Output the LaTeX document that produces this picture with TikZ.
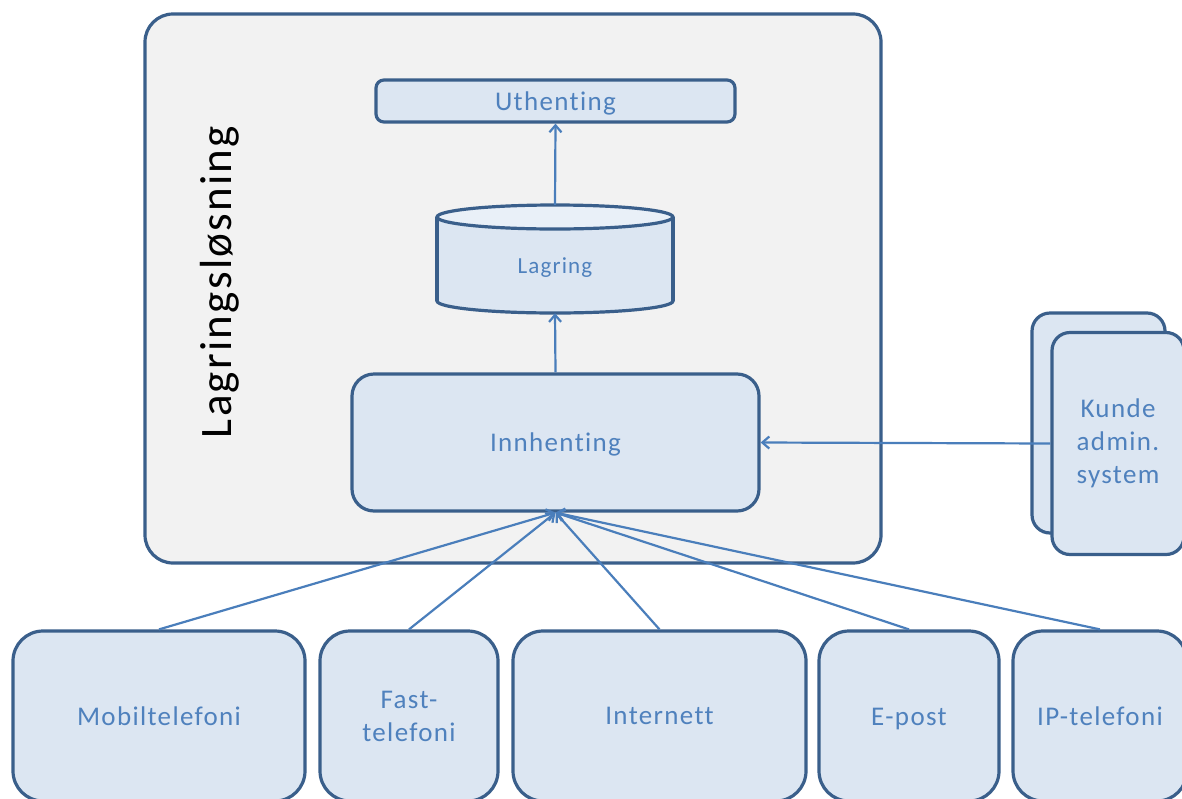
\documentclass[tikz,border=0pt]{standalone}
\usepackage{fontspec}
\setmainfont{Carlito}[LetterSpace=5,Ligatures=NoCommon]
\usetikzlibrary{arrows.meta}
\definecolor{bord}{HTML}{3A5F8B}
\definecolor{boxfill}{HTML}{DCE6F2}
\definecolor{topfill}{HTML}{E9F0F8}
\definecolor{outerfill}{HTML}{F2F2F2}
\definecolor{txt}{HTML}{4F81BD}
\definecolor{arr}{HTML}{4A7EBB}
\newcommand\lowerby[2]{\raisebox{0pt}[\dimexpr\height+#1*2\relax][\depth]{#2}}
\begin{document}
\begin{tikzpicture}[x=1pt,y=-1pt,
  box/.style={draw=bord,line width=3.2pt,fill=boxfill,inner sep=0pt,
    font=\fontsize{27}{33}\selectfont,text=txt,align=center},
  conn/.style={draw=arr,line width=2.2pt,-{Straight Barb[length=7pt,width=12pt]}}]
\clip (0,0) rectangle (1182,798);
\fill[white] (0,0) rectangle (1182,798);
% outer storage box
\node[draw=bord,line width=3.2pt,fill=outerfill,rounded corners=28pt,
  minimum width=736pt,minimum height=549pt] (outer) at (513,288.5) {};
\node[rotate=90,font=\fontsize{45}{53}\selectfont,text=black] (title) at (220,282) {Lagringsløsning};
\node[box,rounded corners=8pt,minimum width=359pt,minimum height=42pt] (uth) at (555.5,101) {\lowerby{2pt}{Uthenting}};
% cylinder
\draw[bord,line width=3.2pt,fill=boxfill] (555,301) ellipse[x radius=118,y radius=12];
\fill[boxfill] (437,217) rectangle (673,301);
\draw[bord,line width=3.2pt] (437,217) -- (437,301) (673,217) -- (673,301);
\draw[bord,line width=3.2pt,fill=topfill] (555,217) ellipse[x radius=118,y radius=12];
\node[inner sep=0pt,minimum width=236pt,minimum height=108pt,text=txt,
  font=\fontsize{23}{27}\selectfont] (lag) at (555,259) {\lowerby{9pt}{Lagring}};
\node[box,rounded corners=22pt,minimum width=407pt,minimum height=137pt] (innh) at (555.5,442.5) {\lowerby{2pt}{Innhenting}};
% customer admin system (stacked)
\node[box,rounded corners=18pt,minimum width=133pt,minimum height=220pt] (kb) at (1098.5,423) {};
\node[box,rounded corners=18pt,minimum width=132pt,minimum height=222pt] (kf) at (1118,443.5) {Kunde\\admin.\\system};
% sources
\node[box,rounded corners=30pt,minimum width=292pt,minimum height=170pt] (mob) at (159,716) {Mobiltelefoni};
\node[box,rounded corners=30pt,minimum width=178pt,minimum height=170pt] (fast) at (409,716) {Fast-\\telefoni};
\node[box,rounded corners=30pt,minimum width=293pt,minimum height=170pt] (int) at (659.5,716) {Internett};
\node[box,rounded corners=30pt,minimum width=180pt,minimum height=170pt] (epost) at (909,716) {\lowerby{3pt}{E-post}};
\node[box,rounded corners=30pt,minimum width=174pt,minimum height=170pt] (ip) at (1100,716) {IP-telefoni};
% connectors
\draw[conn] (lag.north) -- (uth.south);
\draw[conn] (innh.north) -- (lag.south);
\draw[conn] (kf.west) -- (innh.east);
\draw[conn] (mob.north) -- (innh.south);
\draw[conn] (fast.north) -- (innh.south);
\draw[conn] (int.north) -- (innh.south);
\draw[conn] (epost.north) -- (innh.south);
\draw[conn] (ip.north) -- (innh.south);
\end{tikzpicture}
\end{document}
